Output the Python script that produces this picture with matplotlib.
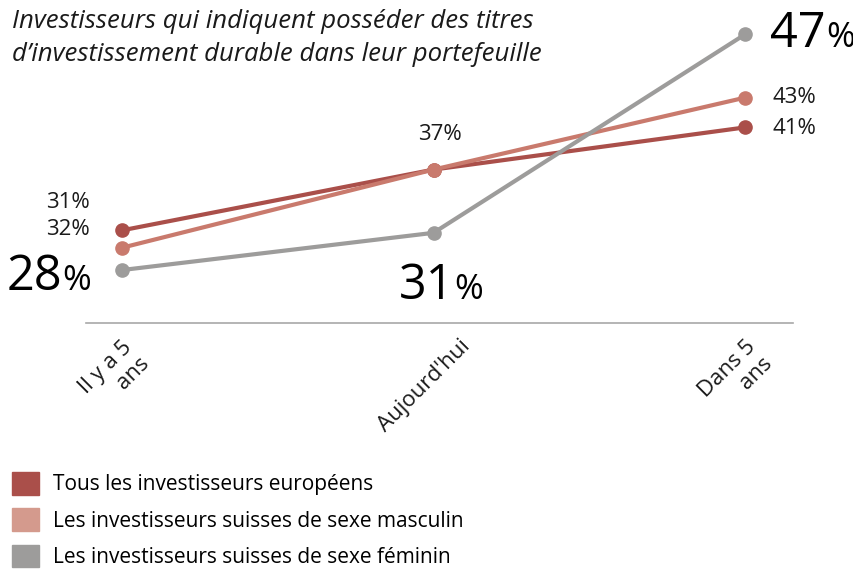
import numpy as np
import matplotlib.pyplot as plt
from matplotlib.patches import Patch
from matplotlib.transforms import ScaledTranslation

plt.rcParams['font.family'] = ['Open Sans', 'DejaVu Sans']

# data
periods = ["Il y a 5\nans", "Aujourd'hui", "Dans 5\nans"]
series_names = ["Tous les investisseurs européens",
                "Les investisseurs suisses de sexe masculin",
                "Les investisseurs suisses de sexe féminin"]
# positions as drawn in the chart
tous = [31.2, 36.1, 39.5]
masculin = [29.8, 36.1, 41.9]
feminin = [28, 31, 47]
# printed labels
tous_labels = ["31%", "", "41%"]
masc_labels = ["32%", "37%", "43%"]
fem_labels = ["28", "31", "47"]

c_tous = '#AA4F4A'
c_masc = '#C97A6D'
c_masc_leg = '#D49A8D'
c_fem = '#9D9C9B'

fig = plt.figure(figsize=(8.54, 5.69), dpi=100)
ax = fig.add_axes([86/854, (569-323)/569, 707/854, 303/569])

x = np.arange(len(periods))
for vals, col in [(tous, c_tous), (masculin, c_masc), (feminin, c_fem)]:
    ax.plot(x, vals, color=col, lw=3, marker='o', ms=9.5, clip_on=False,
            solid_capstyle='round')

ax.set_xlim(-0.1156, 2.154)
ax.set_ylim(23.73, 48.16)
for s in ['top', 'right', 'left']:
    ax.spines[s].set_visible(False)
ax.spines['bottom'].set_color('#A8A8A8')
ax.spines['bottom'].set_linewidth(1.2)
ax.set_yticks([])
ax.set_xticks(x)
ax.set_xticklabels(periods, rotation=45, ha='right', va='bottom',
                   rotation_mode='anchor', multialignment='right',
                   fontsize=16, color='#1a1a1a', linespacing=1.15)
ax.tick_params(axis='x', length=0, pad=0)
# label shifts (inches)
shifts = [(0.31, -0.45), (0.41, -0.28), (0.31, -0.45)]
for lab, (sx, sy) in zip(ax.get_xticklabels(), shifts):
    lab.set_transform(lab.get_transform() +
                      ScaledTranslation(sx, sy, fig.dpi_scale_trans))

small = dict(fontsize=16, color='#1a1a1a', textcoords='offset pixels')
# small labels
ax.annotate(tous_labels[0], (0, tous[0]), xytext=(-32, 28), ha='right', va='center', **small)
ax.annotate(masc_labels[0], (0, masculin[0]), xytext=(-32, 18), ha='right', va='center', **small)
ax.annotate(masc_labels[1], (1, masculin[1]), xytext=(6, 35), ha='center', va='center', **small)
ax.annotate(masc_labels[2], (2, masculin[2]), xytext=(27, 0), ha='left', va='center', **small)
ax.annotate(tous_labels[2], (2, tous[2]), xytext=(27, -1), ha='left', va='center', **small)

# big labels for the women series
big_off = [(-60, -20), (21, -66), (81, -13)]
for i, (dx, dy) in enumerate(big_off):
    ax.annotate(fem_labels[i], (i, feminin[i]), xytext=(dx, dy), textcoords='offset pixels',
                ha='right', va='baseline', fontsize=35, color='black')
    ax.annotate('%', (i, feminin[i]), xytext=(dx, dy), textcoords='offset pixels',
                ha='left', va='baseline', fontsize=25, color='black')

fig.text(12/854, 1 - 9/569,
         "Investisseurs qui indiquent posséder des titres\nd\u2019investissement durable dans leur portefeuille",
         fontsize=18.5, style='italic', color='#1a1a1a', va='top', ha='left', linespacing=1.4)

handles = [Patch(color=c) for c in (c_tous, c_masc_leg, c_fem)]
fig.legend(handles, series_names, loc='upper left', bbox_to_anchor=(12/854, 1 - 472/569),
           frameon=False, fontsize=15, handlelength=1.3, handleheight=1.3,
           handletextpad=0.65, labelspacing=0.62, borderpad=0, borderaxespad=0)

fig.savefig('out.png', dpi=100)
